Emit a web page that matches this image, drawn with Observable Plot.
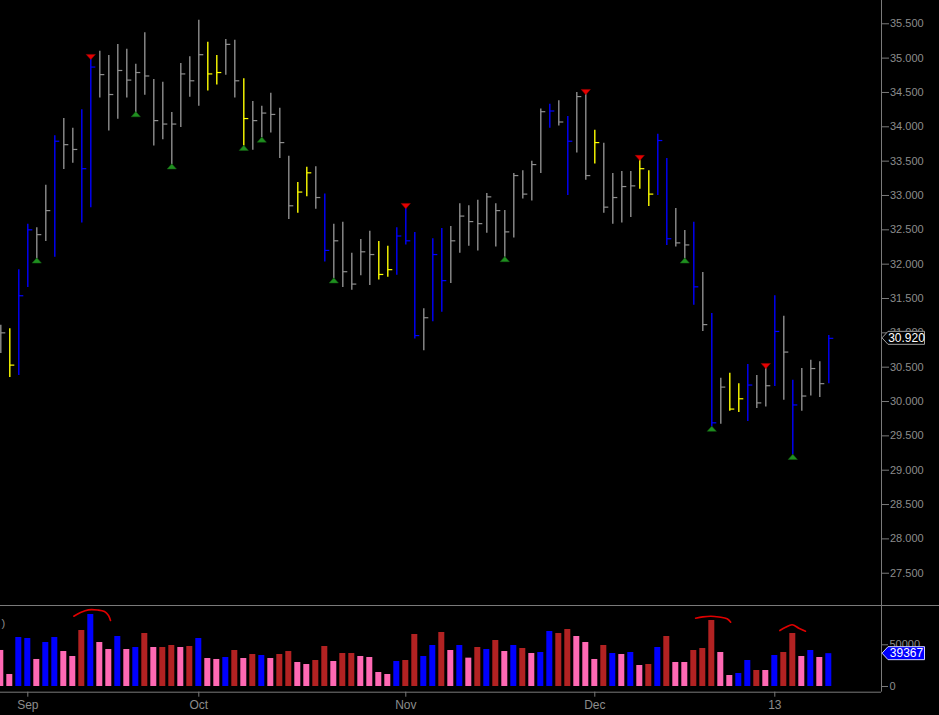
<!DOCTYPE html>
<html>
<head>
<meta charset="utf-8">
<script src="https://cdn.jsdelivr.net/npm/d3@7"></script>
<script src="https://cdn.jsdelivr.net/npm/@observablehq/plot@0.6"></script>
<style>
html, body { margin: 0; padding: 0; background: #000; }
#chart { width: 939px; height: 715px; overflow: hidden; background: #000; }
#chart svg { display: block; }
#vol { border-top: 1px solid #7a7a7a; }
</style>
</head>
<body>
<div id="chart"><div id="price"></div><div id="vol"></div></div>
<script>
// ---- data (bar index 0..92, daily) ----
const high = [31.11,31.06,31.92,32.58,32.53,33.15,33.87,34.12,33.98,34.25,
  34.99,35.10,35.04,35.20,35.13,34.91,35.37,34.69,34.65,34.21,
  34.92,35.02,35.55,35.23,35.04,35.27,35.26,34.70,34.37,34.30,
  34.49,34.27,33.57,33.19,33.41,33.42,33.02,32.58,32.61,32.16,
  32.36,32.48,32.33,32.26,32.53,32.82,32.46,31.35,32.37,32.52,
  32.55,32.88,32.85,32.93,33.03,32.88,32.78,33.32,33.36,33.50,
  34.26,34.33,34.38,34.15,34.50,34.48,33.95,33.76,33.32,33.35,
  33.35,33.52,33.36,33.89,33.54,32.81,32.49,32.61,31.88,31.28,
  30.34,30.41,30.26,30.54,30.38,30.49,31.54,31.24,30.31,30.48,
  30.60,30.58,30.96];
const low = [30.70,30.35,30.38,31.66,32.08,32.33,32.10,33.38,33.47,32.60,
  32.82,34.42,33.94,34.11,34.42,34.21,34.46,33.72,33.81,33.45,
  33.99,34.43,34.30,34.52,34.61,34.75,34.42,33.72,33.66,33.84,
  33.91,33.54,32.65,32.74,32.98,32.80,32.03,31.79,31.66,31.62,
  31.83,31.69,31.77,31.81,31.84,32.28,30.91,30.74,31.16,31.30,
  31.72,32.16,32.26,32.19,32.45,32.25,32.10,32.38,32.95,32.92,
  33.32,33.98,34.01,33.00,33.62,33.22,33.46,32.74,32.58,32.60,
  32.68,33.09,32.84,33.00,32.27,32.25,32.08,31.40,31.02,29.63,
  29.67,29.86,29.84,29.71,29.90,29.92,30.22,30.02,29.22,29.86,
  30.08,30.06,30.26];
const close = [31.00,30.53,31.54,32.50,32.43,32.78,33.79,33.74,33.67,33.39,
  34.87,34.76,34.47,34.82,34.68,34.79,34.74,34.09,34.04,34.04,
  34.77,34.67,35.05,34.77,34.79,35.20,34.67,34.12,34.09,34.20,
  34.18,33.77,32.85,33.05,33.33,32.97,32.20,32.34,31.89,31.71,
  32.18,32.14,31.85,31.92,32.41,32.34,30.96,31.22,32.14,31.76,
  32.34,32.70,32.62,32.59,32.98,32.78,32.47,33.29,33.02,33.45,
  34.22,34.23,34.07,33.79,34.44,33.29,33.77,32.83,32.97,33.13,
  33.14,33.39,33.02,33.80,32.37,32.31,32.28,31.67,31.12,29.69,
  30.21,29.89,30.04,30.24,29.98,30.23,31.02,30.72,29.95,30.08,
  30.48,30.26,30.92];
// bar state: G neutral, Y caution, B trend
const barState = ("GYBBGGBGGBB" + "GGGGGGGGGGGG" + "YYGGY" + "GGGGG" + "YYGB" + "GGGGG" +
  "YYBBBGBB" + "GGGGGGGGGGG" + "BGBGGY" + "GGGG" + "YYBBGGBGB" + "GYYBGGBGBGGGB").split("");
const volume = [43200,14400,58750,57550,32400,52750,58750,41950,35970,67140,
  86330,52750,44360,59950,44360,46760,63550,46760,46760,49160,
  46760,47960,57550,33570,32400,34770,43160,33570,38370,37170,
  33570,38370,41950,28780,26380,31170,47960,29980,39570,39570,
  35970,34770,16790,14390,29980,31170,62350,35970,49160,64750,
  43160,49160,34000,46760,44360,55150,41950,49160,45560,39570,
  40770,65950,63550,68340,59950,52750,32400,49160,39570,38370,
  40770,25180,26380,46760,59950,28780,28780,43160,45560,79130,
  40770,13190,15590,31170,19180,19180,37170,40770,63550,35970,
  43160,34770,39367];
// volume state: b up-trend, r down, p weak
const volState = ("ppbbpbbppr" + "bppbpbrprr" + "prbppbrprb" + "prrpprrprr" + "ppppbrrbbr" +
  "pbprbrpbrp" + "bbrrppprbp" + "bprbrpprrr" + "ppbbrpbrrp" + "bpb").split("");
const topSignals = [10, 45, 65, 71, 85];
const bottomSignals = [4, 15, 19, 27, 29, 37, 56, 76, 79, 88];
const monthTicks = [3, 22, 45, 66, 86];
const monthLabels = ["Sep", "Oct", "Nov", "Dec", "13"];
const priceTicks = [27.5,28,28.5,29,29.5,30,30.5,31,31.5,32,32.5,33,33.5,34,34.5,35,35.5];
const volTicks = [0, 50000];
// hand-drawn highlight strokes over volume spikes: [bar index, volume]
const marks1 = [[8.11,84300],[8.86,88700],[9.74,91900],[10.74,91700],[11.52,89900],[11.97,85100],[12.19,79100]];
const marks2 = [[77.2,81900],[78.0,83500],[78.9,84300],[79.8,83300],[80.7,81200],[81.1,77100]];
const marks3 = [[86.56,67100],[87.2,71000],[87.93,74000],[88.67,69900],[89.41,66300]];

// ---- derived tables ----
const bars = high.map((h, i) => ({i, high: h, low: low[i], close: close[i], state: barState[i], vol: volume[i], vstate: volState[i]}));
const tops = topSignals.map(i => bars[i]);
const bottoms = bottomSignals.map(i => bars[i]);
const strokes = [marks1, marks2, marks3].flatMap((a, k) => a.map(([i, v]) => ({k, i, v})));
const labelOf = new Map(monthTicks.map((t, k) => [t, monthLabels[k]]));

// ---- layout / scale settings ----
const W = 939, PRICE_H = 605, VOL_H = 109, MR = 58;
const X_DOMAIN = [-1/30, 881/9 - 1/30];
const PRICE_DOMAIN = [27.03, 35.839];
const VOL_DOMAIN = [-6835, 95923];
const FONT = "'Liberation Sans', Arial, sans-serif";
const GRID = "#7a7a7a";

const upTri = {draw(ctx) { ctx.moveTo(0, -2.6); ctx.lineTo(4.6, 2.6); ctx.lineTo(-4.6, 2.6); ctx.closePath(); }};
const downTri = {draw(ctx) { ctx.moveTo(0, 2.6); ctx.lineTo(4.6, -2.6); ctx.lineTo(-4.6, -2.6); ctx.closePath(); }};

const pricePlot = Plot.plot({
  width: W, height: PRICE_H,
  marginLeft: 0, marginRight: MR, marginTop: 0, marginBottom: 0,
  style: {background: "#000", color: "#8c8c8c", fontFamily: FONT, fontSize: "11px"},
  x: {domain: X_DOMAIN, axis: null, label: null},
  y: {domain: PRICE_DOMAIN, axis: null, label: null},
  color: {domain: ["G", "Y", "B"], range: ["#8e8e8e", "#ffff00", "#0000ff"]},
  marks: [
    Plot.ruleX(bars, {x: "i", y1: "low", y2: "high", stroke: "state", strokeWidth: 1.4}),
    Plot.link(bars, {x1: "i", x2: d => d.i + 0.5, y1: "close", y2: "close", stroke: "state", strokeWidth: 1.2}),
    Plot.dot(tops, {x: "i", y: "high", dy: -1.8, symbol: downTri, fill: "#e60000", stroke: "#a00000", strokeWidth: 0.5}),
    Plot.dot(bottoms, {x: "i", y: "low", dy: 1.8, symbol: upTri, fill: "#1f8f1f", stroke: "#146014", strokeWidth: 0.5}),
    Plot.ruleX([X_DOMAIN[1]], {stroke: GRID}),
    Plot.axisY({anchor: "right", label: null, ticks: priceTicks, tickFormat: d3.format(".3f"), tickSize: 7, tickPadding: 1.5, stroke: GRID, fill: "#8c8c8c"})
  ]
});
document.getElementById("price").append(pricePlot);

const volPlot = Plot.plot({
  width: W, height: VOL_H,
  marginLeft: 0, marginRight: MR, marginTop: 0, marginBottom: VOL_H - 85.7,
  style: {background: "#000", color: "#8c8c8c", fontFamily: FONT, fontSize: "11px"},
  x: {domain: X_DOMAIN, axis: null, label: null},
  y: {domain: VOL_DOMAIN, axis: null, label: null},
  color: {domain: ["b", "r", "p"], range: ["#0000ff", "#b22222", "#ff69b4"]},
  marks: [
    Plot.rect(bars, {x1: d => d.i - 1/3, x2: d => d.i + 1/3, y1: () => 0, y2: "vol", fill: "vstate"}),
    Plot.line(strokes, {x: "i", y: "v", z: "k", stroke: "#e00000", strokeWidth: 1.6, curve: "catmull-rom"}),
    Plot.ruleY([VOL_DOMAIN[0]], {stroke: GRID}),
    Plot.ruleX([X_DOMAIN[1]], {stroke: GRID}),
    Plot.axisX({anchor: "bottom", label: null, ticks: monthTicks, tickFormat: d => labelOf.get(d), tickSize: 5, tickPadding: 3, stroke: GRID, fill: "#8c8c8c", fontSize: 12}),
    Plot.axisY({anchor: "right", label: null, ticks: volTicks, tickFormat: d3.format("d"), tickSize: 6, tickPadding: 2, stroke: GRID, fill: "#8c8c8c"}),
    Plot.text([")"], {frameAnchor: "top-left", dx: 1, dy: 13, fill: "#8c8c8c", fontSize: 11})
  ]
});
document.getElementById("vol").append(volPlot);

// ---- value tags on the right axis ----
function tag(plot, value, text, fill, stroke) {
  const svg = d3.select(plot.tagName === "svg" ? plot : plot.querySelector("svg"));
  const x0 = plot.scale("x").range[1] + 1;
  const y = plot.scale("y").apply(value);
  const g = svg.append("g");
  g.append("path")
    .attr("d", `M${x0},${y} L${x0 + 6},${y - 6.5} L${x0 + 42.5},${y - 6.5} L${x0 + 42.5},${y + 6.5} L${x0 + 6},${y + 6.5} Z`)
    .attr("fill", fill).attr("stroke", stroke).attr("stroke-width", 1);
  g.append("text").attr("x", x0 + 24.5).attr("y", y).attr("dy", "0.36em")
    .attr("text-anchor", "middle").attr("fill", "#fff")
    .attr("font-family", FONT).attr("font-size", 12).text(text);
}
tag(pricePlot, close[close.length - 1], d3.format(".3f")(close[close.length - 1]), "#000", "#a0a0a0");
tag(volPlot, volume[volume.length - 1], String(volume[volume.length - 1]), "#0000ff", "#d0d0ff");
</script>
</body>
</html>
